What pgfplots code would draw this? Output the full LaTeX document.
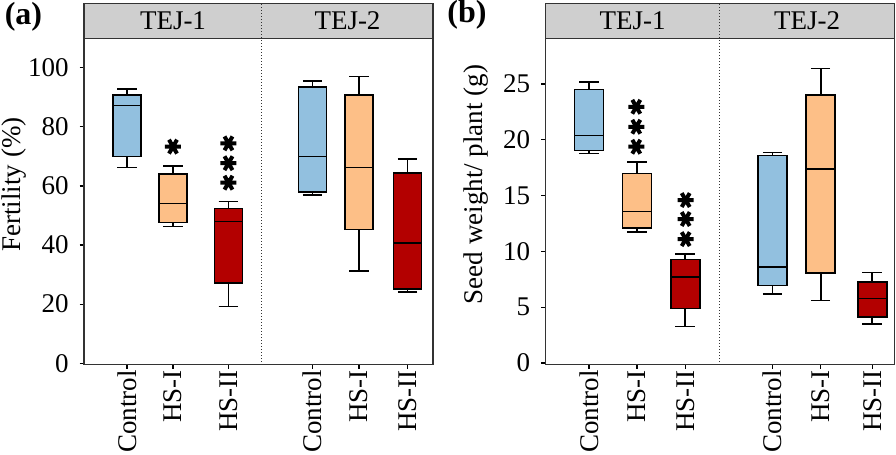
\documentclass[border=0pt]{standalone}
\usepackage{fontspec}
\setmainfont{Liberation Serif}
\usepackage{pgfplots}
\pgfplotsset{compat=1.18}
\usepgfplotslibrary{statistics}
\definecolor{cblue}{HTML}{92C0DF}
\definecolor{corange}{HTML}{FDBF87}
\definecolor{cred}{HTML}{B30000}
\definecolor{stripgray}{HTML}{CFCFCF}
\definecolor{framec}{HTML}{333333}
\newcommand{\fsz}{\fontsize{13.5}{13.5}\selectfont}
\pgfplotsset{
 fac/.style={
  scale only axis, width=174.5pt, height=163pt,
  xmin=0, xmax=34.9,
  axis line style={framec, line width=0.7pt},
  tick align=outside, major tick length=2.2pt,
  tick style={black, line width=0.6pt},
  xtick pos=bottom, ytick pos=left,
  xticklabels={Control,HS-I,HS-II,Control,HS-I,HS-II},
  xticklabel style={rotate=90, anchor=east, inner sep=0.5pt},
  yticklabel style={xshift=-2pt},
  /pgf/number format/assume math mode=true,
  tick label style={font=\fsz},
  clip=false,
  boxplot/draw direction=y,
  boxplot/every median/.style={line width=0.8pt},
 },
 bxs/.style={draw=black, line width=0.8pt},
 astm/.style={only marks, mark=asterisk, mark size=4pt, line width=2pt, black, mark options={rotate=90}},
}
\begin{document}
\begin{tikzpicture}
\path (-42pt,-44.85pt) rectangle (406pt,181.65pt);
% ---------------- (a) ----------------
\begin{axis}[fac, at={(0pt,0pt)}, anchor=south west,
  ymin=-0.45, ymax=109.9, ytick={0,20,40,60,80,100},
  xtick={4.3,8.9,14.45,22.85,27.5,32.35}]
\draw[framec, fill=stripgray, line width=0.7pt] (rel axis cs:0,1) rectangle (rel axis cs:1,1.10675);
\draw[black!80, densely dotted, line width=0.5pt] (axis cs:17.8,-0.45) -- (axis cs:17.8,121.68);
\node[font=\fsz] at (axis cs:8.9,115.79) {TEJ-1};
\node[font=\fsz] at (axis cs:26.35,115.79) {TEJ-2};
\addplot[bxs, fill=cblue, boxplot prepared={draw position=4.3, lower whisker=66.2, lower quartile=70.0, median=87.2, upper quartile=90.8, upper whisker=92.8, box extend=2.8, whisker extend=1.95}] coordinates {};
\addplot[bxs, fill=corange, boxplot prepared={draw position=8.9, lower whisker=46.2, lower quartile=47.6, median=54.0, upper quartile=64.0, upper whisker=66.7, box extend=2.8, whisker extend=1.95}] coordinates {};
\addplot[bxs, fill=cred, boxplot prepared={draw position=14.45, lower whisker=19.2, lower quartile=27.1, median=48.0, upper quartile=52.3, upper whisker=54.7, box extend=2.8, whisker extend=1.95}] coordinates {};
\addplot[bxs, fill=cblue, boxplot prepared={draw position=22.85, lower whisker=57.0, lower quartile=58.0, median=70.0, upper quartile=93.5, upper whisker=95.5, box extend=2.8, whisker extend=1.95}] coordinates {};
\addplot[bxs, fill=corange, boxplot prepared={draw position=27.5, lower whisker=31.3, lower quartile=45.2, median=66.2, upper quartile=90.8, upper whisker=97.0, box extend=2.8, whisker extend=1.95}] coordinates {};
\addplot[bxs, fill=cred, boxplot prepared={draw position=32.35, lower whisker=24.0, lower quartile=25.1, median=40.6, upper quartile=64.3, upper whisker=69.2, box extend=2.8, whisker extend=1.95}] coordinates {};
\addplot[astm] coordinates {(8.9,73.3) (14.45,74.4) (14.45,67.7) (14.45,61.1)};
\node[font=\fsz, rotate=90, inner sep=0pt] at (rel axis cs:-0.2006,0.5521) {Fertility (\%)};
\end{axis}
\node[font=\fontsize{16}{16}\selectfont\bfseries, inner sep=0pt] at (-30.25pt,174pt) {(a)};
% ---------------- (b) ----------------
\begin{axis}[fac, at={(230.85pt,0pt)}, anchor=south west,
  ymin=-0.14, ymax=29.08, ytick={0,5,10,15,20,25},
  xtick={4.33,9.13,13.95,22.68,27.5,32.65}]
\draw[framec, fill=stripgray, line width=0.7pt] (rel axis cs:0,1) rectangle (rel axis cs:1,1.10675);
\draw[black!80, densely dotted, line width=0.5pt] (axis cs:17.4,-0.14) -- (axis cs:17.4,32.2);
\node[font=\fsz] at (axis cs:8.7,30.64) {TEJ-1};
\node[font=\fsz] at (axis cs:26.15,30.64) {TEJ-2};
\addplot[bxs, fill=cblue, boxplot prepared={draw position=4.33, lower whisker=18.76, lower quartile=19.05, median=20.37, upper quartile=24.5, upper whisker=25.2, box extend=2.9, whisker extend=1.95}] coordinates {};
\addplot[bxs, fill=corange, boxplot prepared={draw position=9.13, lower whisker=11.72, lower quartile=12.1, median=13.57, upper quartile=16.97, upper whisker=18.0, box extend=2.9, whisker extend=1.95}] coordinates {};
\addplot[bxs, fill=cred, boxplot prepared={draw position=13.95, lower whisker=3.28, lower quartile=4.89, median=7.7, upper quartile=9.27, upper whisker=9.78, box extend=2.9, whisker extend=1.95}] coordinates {};
\addplot[bxs, fill=cblue, boxplot prepared={draw position=22.68, lower whisker=6.2, lower quartile=6.95, median=8.59, upper quartile=18.6, upper whisker=18.87, box extend=2.9, whisker extend=1.95}] coordinates {};
\addplot[bxs, fill=corange, boxplot prepared={draw position=27.5, lower whisker=5.6, lower quartile=8.05, median=17.4, upper quartile=24.0, upper whisker=26.4, box extend=2.9, whisker extend=1.95}] coordinates {};
\addplot[bxs, fill=cred, boxplot prepared={draw position=32.65, lower whisker=3.49, lower quartile=4.11, median=5.79, upper quartile=7.28, upper whisker=8.11, box extend=2.9, whisker extend=1.95}] coordinates {};
\addplot[astm] coordinates {(9.06,22.96) (9.06,21.17) (9.06,19.38) (14.0,14.6) (14.0,12.9) (14.0,11.1)};
\node[font=\fsz, rotate=90, inner sep=0pt] at (rel axis cs:-0.1997,0.5521) {Seed weight/ plant (g)};
\end{axis}
\node[font=\fontsize{16}{16}\selectfont\bfseries, inner sep=0pt] at (191.5pt,175pt) {(b)};
\end{tikzpicture}
\end{document}
